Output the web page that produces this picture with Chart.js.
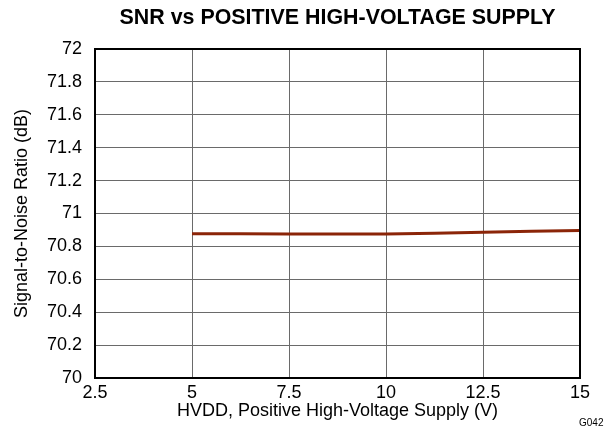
<!DOCTYPE html>
<html>
<head>
<meta charset="utf-8">
<script src="https://cdn.jsdelivr.net/npm/chart.js@4/dist/chart.umd.min.js"></script>
<style>
  html, body { margin: 0; padding: 0; background: #fff; }
  #wrap { width: 616px; height: 431px; }
</style>
</head>
<body>
<div id="wrap"><canvas id="snrChart" width="616" height="431"></canvas></div>
<script>
// SNR measured against the positive high-voltage supply
const hvdd = [5, 7.5, 10, 12.5, 15];
const snr = [70.877, 70.876, 70.876, 70.886, 70.897];

const xTicks = [2.5, 5, 7.5, 10, 12.5, 15];
const yTicks = [70, 70.2, 70.4, 70.6, 70.8, 71, 71.2, 71.4, 71.6, 71.8, 72];

const chartTitle = 'SNR vs POSITIVE HIGH-VOLTAGE SUPPLY';
const FONT = 'Liberation Sans, Arial, sans-serif';

// frame round the plot area, title centred over it, figure code in the corner
const framePlugin = {
    id: 'frame',
    afterDatasetsDraw(chart) {
        const { ctx, chartArea: a } = chart;
        ctx.save();
        ctx.strokeStyle = '#000';
        ctx.lineWidth = 2;
        ctx.strokeRect(a.left, a.top, a.right - a.left, a.bottom - a.top);

        ctx.fillStyle = '#000';
        ctx.textAlign = 'center';
        ctx.textBaseline = 'middle';
        ctx.font = 'bold 21.4px ' + FONT;
        ctx.fillText(chartTitle, (a.left + a.right) / 2, 18);

        ctx.font = '10px ' + FONT;
        ctx.textAlign = 'left';
        ctx.fillText('G042', 579, 423);
        ctx.restore();
    }
};

new Chart(document.getElementById('snrChart'), {
    type: 'line',
    data: {
        datasets: [{
            data: hvdd.map((x, i) => ({ x: x, y: snr[i] })),
            borderColor: '#8b2508',
            borderWidth: 3,
            pointRadius: 0,
            tension: 0.3,
            fill: false
        }]
    },
    options: {
        responsive: false,
        animation: false,
        layout: { padding: { left: 0, right: 36, top: 49, bottom: 0 } },
        plugins: {
            legend: { display: false },
            tooltip: { enabled: false },
            title: { display: false }
        },
        scales: {
            x: {
                type: 'linear',
                min: 2.5,
                max: 15,
                afterBuildTicks: (scale) => { scale.ticks = xTicks.map(v => ({ value: v })); },
                afterFit: (scale) => { scale.height = 53; },
                ticks: {
                    color: '#000',
                    font: { family: FONT, size: 18 },
                    padding: 4,
                    maxRotation: 0,
                    callback: (v) => String(v)
                },
                grid: { color: '#6a6a6a', lineWidth: 1, drawTicks: false },
                border: { display: false },
                title: {
                    display: true,
                    text: 'HVDD, Positive High-Voltage Supply (V)',
                    color: '#000',
                    font: { family: FONT, size: 18 },
                    padding: { top: 2, bottom: 9 }
                }
            },
            y: {
                min: 70,
                max: 72,
                afterBuildTicks: (scale) => { scale.ticks = yTicks.map(v => ({ value: v })); },
                afterFit: (scale) => { scale.width = 95; },
                ticks: {
                    color: '#000',
                    font: { family: FONT, size: 18 },
                    padding: 13,
                    callback: (v) => String(parseFloat(v.toFixed(1)))
                },
                grid: { color: '#6a6a6a', lineWidth: 1, drawTicks: false },
                border: { display: false },
                title: {
                    display: true,
                    text: 'Signal-to-Noise Ratio (dB)',
                    color: '#000',
                    font: { family: FONT, size: 18 },
                    padding: { top: 11, bottom: 4 }
                }
            }
        }
    },
    plugins: [framePlugin]
});
</script>
</body>
</html>
